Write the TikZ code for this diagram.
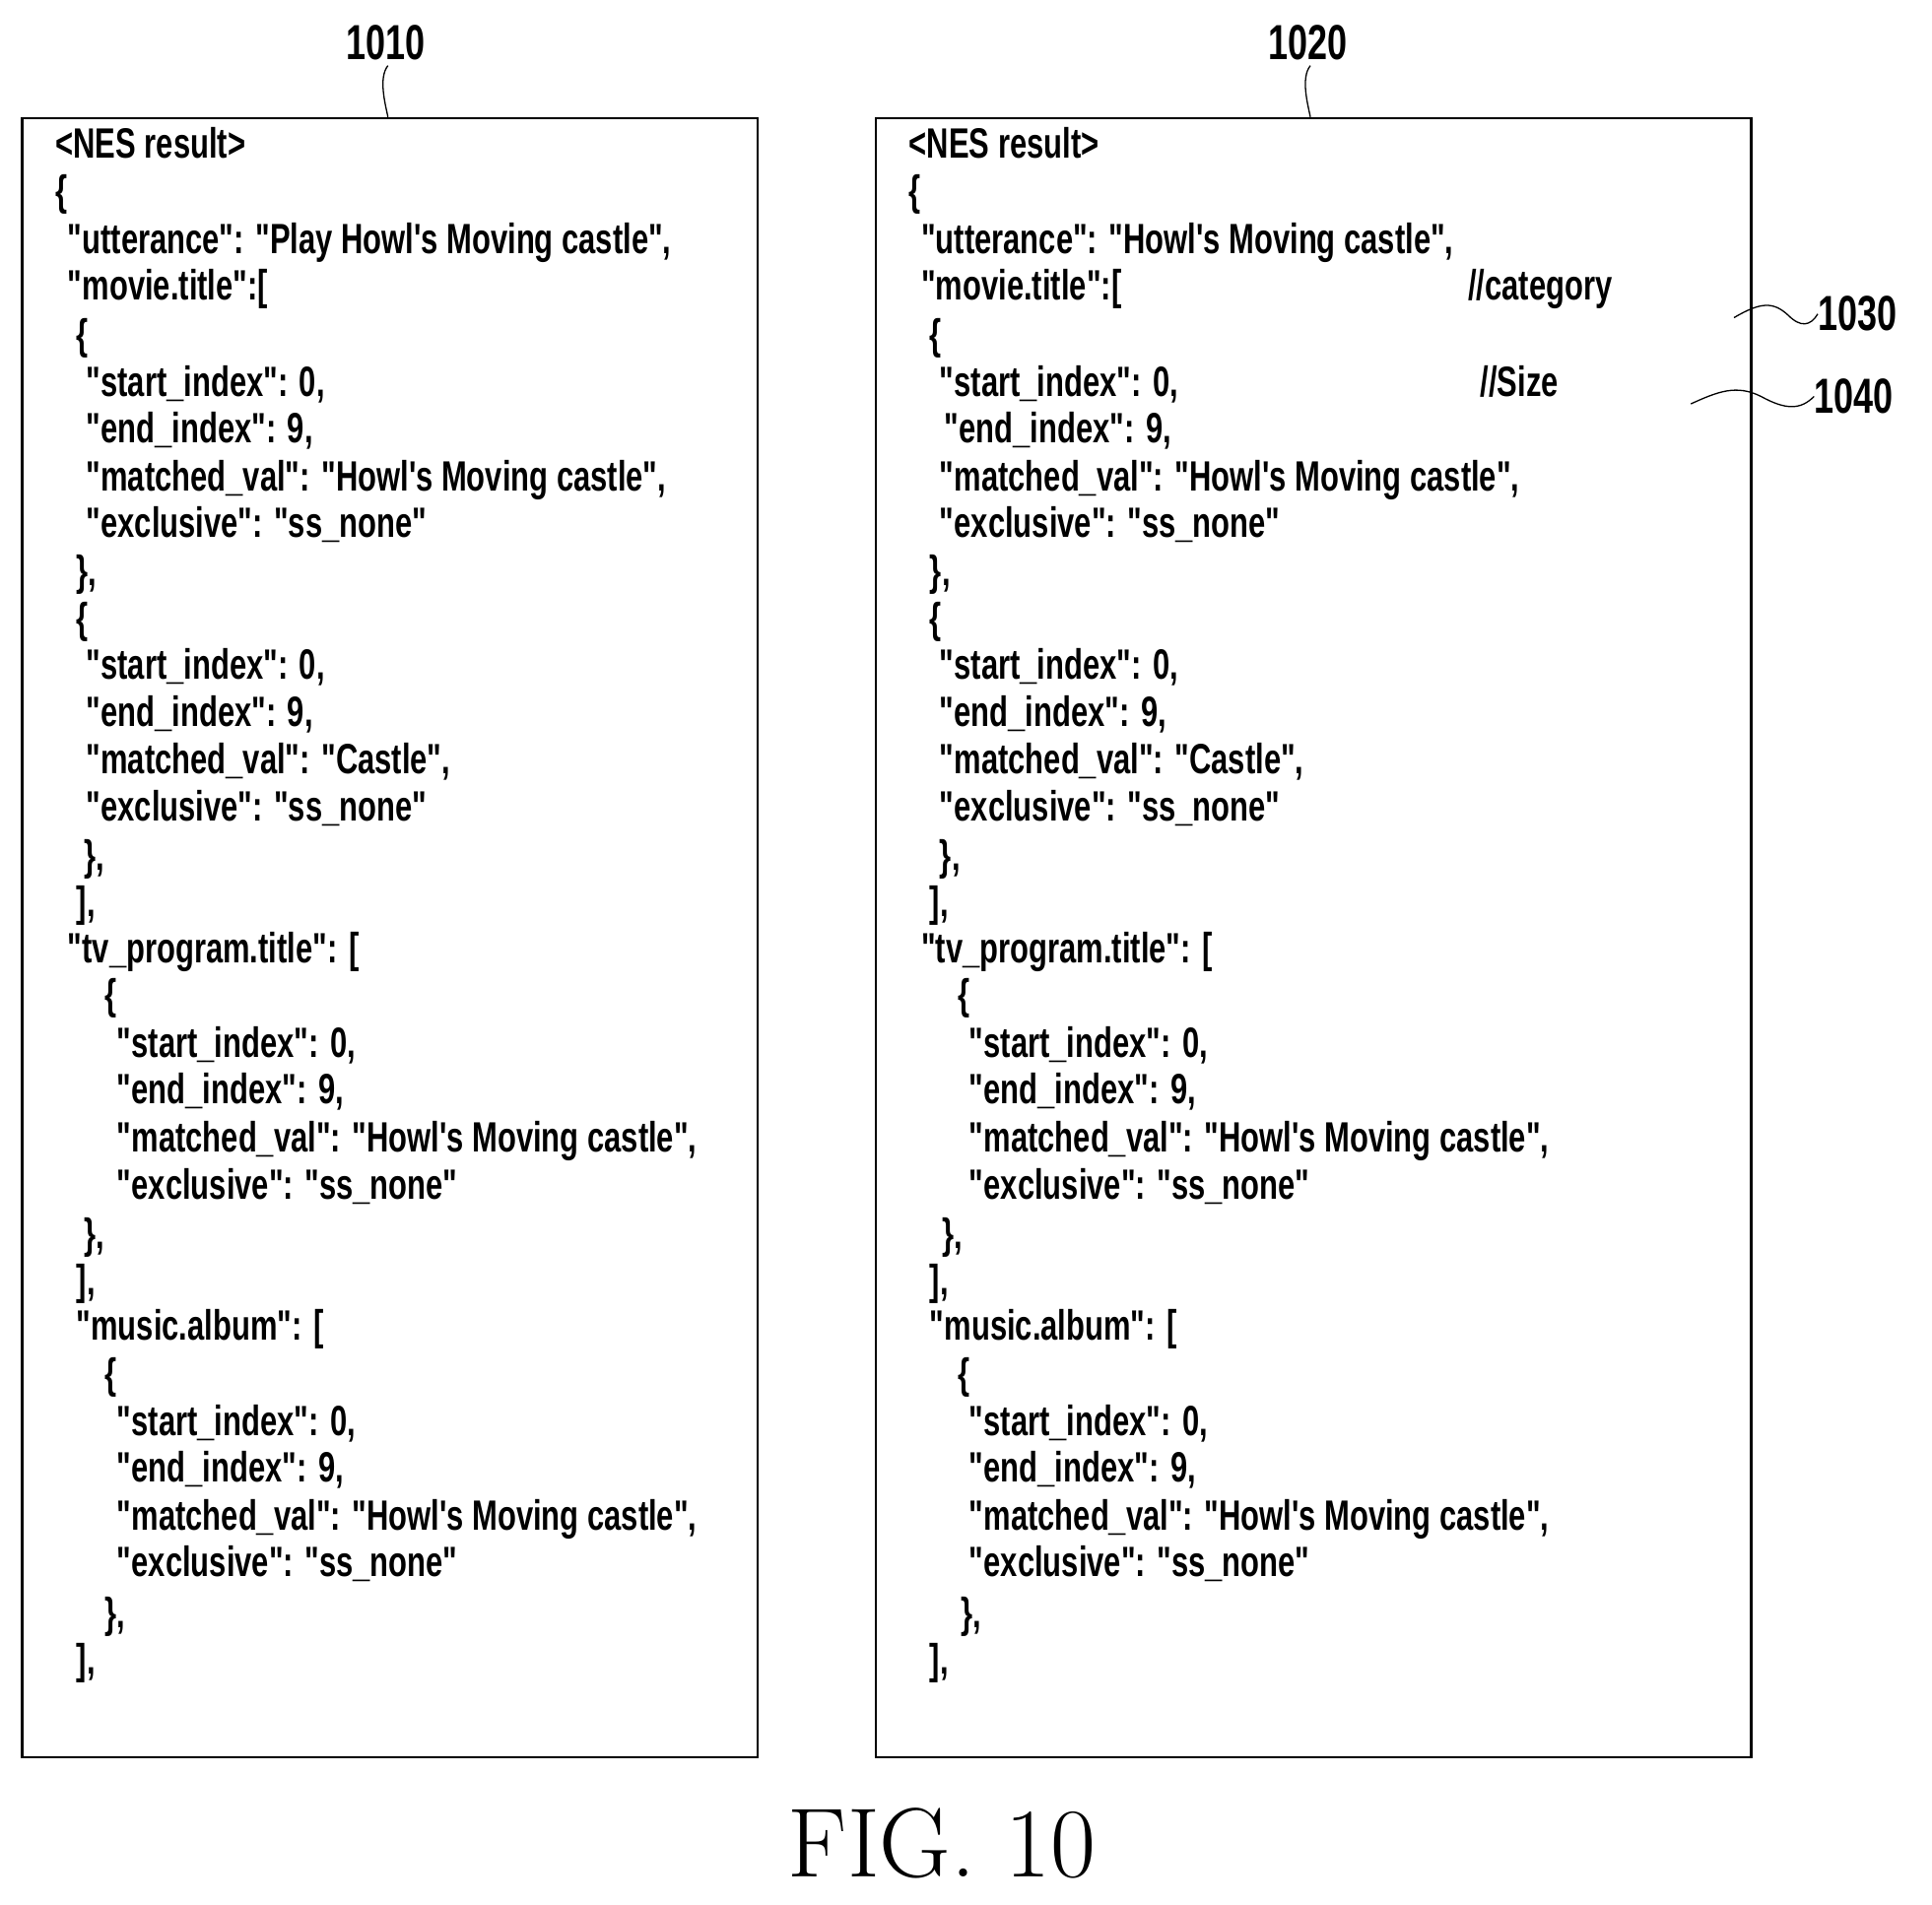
\documentclass[tikz,border=0pt]{standalone}
\usepackage{fontspec}
\newfontfamily\cf[FakeStretch=0.72,Ligatures=ResetAll]{Liberation Sans}
\begin{document}
\begin{tikzpicture}[x=1.25pt,y=-1.25pt,
  t/.style={anchor=mid west,inner sep=0pt,font=\cf\bfseries\fontsize{43}{43}\selectfont},
  ref/.style={inner sep=0pt,font=\cf\bfseries\fontsize{50}{50}\selectfont},
  box/.style={draw,line width=2.5pt},
  sq/.style={line width=1.3pt}]
\useasboundingbox (0,0) rectangle (1568.8,1546.4);
\node[box,minimum width=597*1.25pt,minimum height=1331*1.25pt,anchor=north west] (b1) at (17,95) {};
\node[box,minimum width=711*1.25pt,minimum height=1331*1.25pt,anchor=north west] (b2) at (710,95) {};
\node[ref] (r1) at (313,35) {1010};
\node[ref] (r2) at (1062,35) {1020};
\node[ref,anchor=west] (r3) at (1476,255) {1030};
\node[ref,anchor=west] (r4) at (1473,322) {1040};
\draw[sq] (r1.south) ++(2,4) coordinate (c1) .. controls +(-8,10) and +(-2,-10) .. (b1.north -| c1);
\draw[sq] (r2.south) ++(2,4) coordinate (c2) .. controls +(-8,10) and +(-2,-10) .. (b2.north -| c2);
\coordinate (s3) at (1408,258);
\draw[sq] (s3) .. controls (1430,245) and (1440,245) .. (1452,256) .. controls (1462,266) and (1470,265) .. (r3.west);
\coordinate (s4) at (1373,328);
\draw[sq] (s4) .. controls (1395,318) and (1410,312) .. (1430,322) .. controls (1450,333) and (1462,333) .. (r4.west);
\node[font=\fontsize{100}{100}\selectfont,inner sep=0pt] (fig) at (765,1497) {FIG. 10};
% left box
\node[t] (a1) at (45,127) {<NES result>};
\node[t] (a2) at (45,165) {\{};
\node[t] (a3) at (55,204) {"utterance": "Play Howl's Moving castle",};
\node[t] (a4) at (55,242) {"movie.title":[};
\node[t] (a5) at (62,282) {\{};
\node[t] (a6) at (70,320) {"start\_index": 0,};
\node[t] (a7) at (70,358) {"end\_index": 9,};
\node[t] (a8) at (70,397) {"matched\_val": "Howl's Moving castle",};
\node[t] (a9) at (70,435) {"exclusive": "ss\_none"};
\node[t] (a10) at (62,474) {\},};
\node[t] (a11) at (62,512) {\{};
\node[t] (a12) at (70,550) {"start\_index": 0,};
\node[t] (a13) at (70,588) {"end\_index": 9,};
\node[t] (a14) at (70,627) {"matched\_val": "Castle",};
\node[t] (a15) at (70,665) {"exclusive": "ss\_none"};
\node[t] (a16) at (68,705) {\},};
\node[t] (a17) at (62,743) {],};
\node[t] (a18) at (55,780) {"tv\_program.title": [};
\node[t] (a19) at (85,818) {\{};
\node[t] (a20) at (95,857) {"start\_index": 0,};
\node[t] (a21) at (95,895) {"end\_index": 9,};
\node[t] (a22) at (95,934) {"matched\_val": "Howl's Moving castle",};
\node[t] (a23) at (95,972) {"exclusive": "ss\_none"};
\node[t] (a24) at (68,1012) {\},};
\node[t] (a25) at (62,1050) {],};
\node[t] (a26) at (62,1087) {"music.album": [};
\node[t] (a27) at (85,1126) {\{};
\node[t] (a28) at (95,1164) {"start\_index": 0,};
\node[t] (a29) at (95,1202) {"end\_index": 9,};
\node[t] (a30) at (95,1241) {"matched\_val": "Howl's Moving castle",};
\node[t] (a31) at (95,1279) {"exclusive": "ss\_none"};
\node[t] (a32) at (85,1320) {\},};
\node[t] (a33) at (62,1358) {],};
% right box
\node[t] (e1) at (738,127) {<NES result>};
\node[t] (e2) at (738,165) {\{};
\node[t] (e3) at (748,204) {"utterance": "Howl's Moving castle",};
\node[t] (e4) at (748,242) {"movie.title":[};
\node[t] (e4c) at (1192,242) {//category};
\node[t] (e5) at (755,282) {\{};
\node[t] (e6) at (763,320) {"start\_index": 0,};
\node[t] (e6c) at (1202,320) {//Size};
\node[t] (e7) at (767,358) {"end\_index": 9,};
\node[t] (e8) at (763,397) {"matched\_val": "Howl's Moving castle",};
\node[t] (e9) at (763,435) {"exclusive": "ss\_none"};
\node[t] (e10) at (755,474) {\},};
\node[t] (e11) at (755,512) {\{};
\node[t] (e12) at (763,550) {"start\_index": 0,};
\node[t] (e13) at (763,588) {"end\_index": 9,};
\node[t] (e14) at (763,627) {"matched\_val": "Castle",};
\node[t] (e15) at (763,665) {"exclusive": "ss\_none"};
\node[t] (e16) at (763,705) {\},};
\node[t] (e17) at (755,743) {],};
\node[t] (e18) at (748,780) {"tv\_program.title": [};
\node[t] (e19) at (778,818) {\{};
\node[t] (e20) at (787,857) {"start\_index": 0,};
\node[t] (e21) at (787,895) {"end\_index": 9,};
\node[t] (e22) at (787,934) {"matched\_val": "Howl's Moving castle",};
\node[t] (e23) at (787,972) {"exclusive": "ss\_none"};
\node[t] (e24) at (765,1012) {\},};
\node[t] (e25) at (755,1050) {],};
\node[t] (e26) at (755,1087) {"music.album": [};
\node[t] (e27) at (778,1126) {\{};
\node[t] (e28) at (787,1164) {"start\_index": 0,};
\node[t] (e29) at (787,1202) {"end\_index": 9,};
\node[t] (e30) at (787,1241) {"matched\_val": "Howl's Moving castle",};
\node[t] (e31) at (787,1279) {"exclusive": "ss\_none"};
\node[t] (e32) at (780,1320) {\},};
\node[t] (e33) at (755,1358) {],};
\end{tikzpicture}
\end{document}
